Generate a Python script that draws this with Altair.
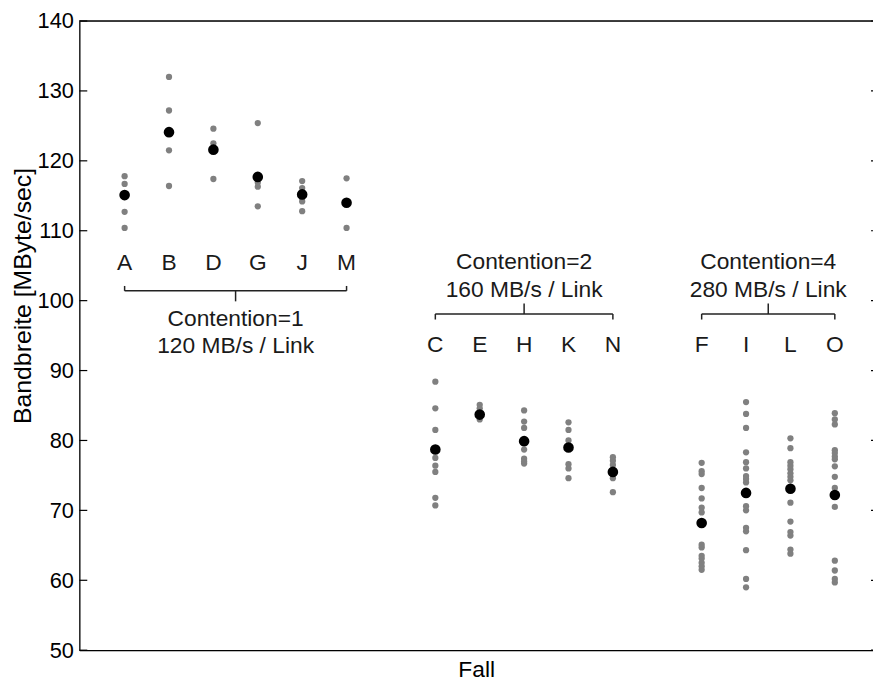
import altair as alt
import pandas as pd

# ---------------- data ----------------
cats_c1 = ["A", "B", "D", "G", "J", "M"]
cats_c2 = ["C", "E", "H", "K", "N"]
cats_c4 = ["F", "I", "L", "O"]

titles_c1 = ["Contention=1", "120 MB/s / Link"]
titles_c2 = ["Contention=2", "160 MB/s / Link"]
titles_c4 = ["Contention=4", "280 MB/s / Link"]

runs = {
    "A": [117.8, 116.7, 112.7, 110.4],
    "B": [132.0, 127.2, 121.5, 116.4],
    "D": [124.6, 122.5, 117.4],
    "G": [125.4, 116.9, 116.3, 113.5],
    "J": [117.1, 116.1, 114.7, 114.2, 112.8],
    "M": [117.5, 110.4],
    "C": [88.4, 84.6, 81.5, 77.5, 76.4, 75.5, 71.8, 70.7],
    "E": [85.1, 84.6, 83.0],
    "H": [84.3, 82.7, 81.8, 78.7, 77.4, 77.0, 76.7],
    "K": [82.6, 81.5, 80.0, 76.6, 76.0, 74.6],
    "N": [77.6, 77.1, 76.5, 74.6, 72.6],
    "F": [76.8, 75.6, 75.2, 73.2, 71.7, 70.4, 69.7, 65.1, 64.7, 63.5, 63.1, 62.5, 62.0, 61.5],
    "I": [85.5, 83.8, 81.8, 78.3, 76.9, 76.0, 74.9, 74.5, 74.0, 70.6, 70.0, 67.5, 67.0, 64.3, 60.2, 59.0],
    "L": [80.3, 78.9, 76.9, 76.4, 75.9, 75.3, 74.8, 74.3, 71.1, 68.4, 66.9, 66.4, 64.4, 63.8],
    "O": [83.9, 83.0, 82.3, 78.6, 78.2, 77.7, 77.3, 76.3, 74.8, 73.2, 70.5, 62.8, 61.4, 60.2, 59.7],
}

means = {
    "A": 115.1, "B": 124.1, "D": 121.6, "G": 117.7, "J": 115.2, "M": 114.0,
    "C": 78.7, "E": 83.7, "H": 79.9, "K": 79.0, "N": 75.5,
    "F": 68.2, "I": 72.5, "L": 73.1, "O": 72.2,
}

y_ticks = [50, 60, 70, 80, 90, 100, 110, 120, 130, 140]

# annotation levels (in data units of the y axis)
groups = [
    {"cats": cats_c1, "titles": titles_c1, "label_y": 105.4, "title_y": [97.4, 93.5],
     "bar_y": 101.4, "end_y": 102.1, "mid_y": 99.9},
    {"cats": cats_c2, "titles": titles_c2, "label_y": 93.7, "title_y": [105.5, 101.5],
     "bar_y": 98.1, "end_y": 97.3, "mid_y": 99.6},
    {"cats": cats_c4, "titles": titles_c4, "label_y": 93.7, "title_y": [105.5, 101.5],
     "bar_y": 98.1, "end_y": 97.3, "mid_y": 99.6},
]

# ---------------- build tables ----------------
pts, mean_rows, lab_rows, title_rows, rule_rows = [], [], [], [], []
pos = 1
for g in groups:
    first = pos
    for c in g["cats"]:
        for v in runs[c]:
            pts.append({"cat": c, "pos": pos, "v": v})
        mean_rows.append({"cat": c, "pos": pos, "v": means[c]})
        lab_rows.append({"cat": c, "pos": pos, "v": g["label_y"]})
        pos += 1
    last = pos - 1
    mid = (first + last) / 2
    for t, ty in zip(g["titles"], g["title_y"]):
        title_rows.append({"t": t, "pos": mid, "v": ty})
    rule_rows += [
        {"x1": first, "x2": last, "y1": g["bar_y"], "y2": g["bar_y"]},
        {"x1": first, "x2": first, "y1": g["bar_y"], "y2": g["end_y"]},
        {"x1": last, "x2": last, "y1": g["bar_y"], "y2": g["end_y"]},
        {"x1": mid, "x2": mid, "y1": g["bar_y"], "y2": g["mid_y"]},
    ]
    pos += 1  # gap between groups

pts = pd.DataFrame(pts)
mean_df = pd.DataFrame(mean_rows)
lab_df = pd.DataFrame(lab_rows)
title_df = pd.DataFrame(title_rows)
rule_df = pd.DataFrame(rule_rows)
tick_df = pd.DataFrame({"v": y_ticks})

FONT = "Liberation Sans"
W, H = 801, 635

xscale = alt.Scale(domain=[-0.02, 17.86], nice=False, zero=False)
yscale = alt.Scale(domain=[50, 140], nice=False, zero=False)

x_axis = alt.Axis(title="Fall", labels=False, ticks=False, grid=False, domain=True,
                  domainColor="black", domainWidth=1.3, titleFont=FONT, titleFontSize=23,
                  titleFontWeight="normal", titleColor="black", titlePadding=9)
y_axis = alt.Axis(title="Bandbreite [MByte/sec]", values=y_ticks, ticks=False, grid=False,
                  domain=True, domainColor="black", domainWidth=1.3,
                  labelFont=FONT, labelFontSize=22, labelColor="black", labelPadding=6,
                  titleFont=FONT, titleFontSize=25, titleFontWeight="normal", titleColor="black",
                  titleAngle=270, titleAlign="center", titleBaseline="middle",
                  titleX=-57, titleY=277)

grey = alt.Chart(pts).mark_circle(size=40, color="#808080", opacity=1).encode(
    x=alt.X("pos:Q", scale=xscale, axis=x_axis),
    y=alt.Y("v:Q", scale=yscale, axis=y_axis),
)

black = alt.Chart(mean_df).mark_circle(size=115, color="black", opacity=1).encode(
    x=alt.X("pos:Q", scale=xscale),
    y=alt.Y("v:Q", scale=yscale),
)

labels = alt.Chart(lab_df).mark_text(font=FONT, fontSize=23, color="#1a1a1a",
                                     baseline="middle", align="center").encode(
    x=alt.X("pos:Q", scale=xscale),
    y=alt.Y("v:Q", scale=yscale),
    text="cat:N",
)

titles = alt.Chart(title_df).mark_text(font=FONT, fontSize=23, color="#1a1a1a",
                                       baseline="middle", align="center").encode(
    x=alt.X("pos:Q", scale=xscale),
    y=alt.Y("v:Q", scale=yscale),
    text="t:N",
)

brackets = alt.Chart(rule_df).mark_rule(color="#222222", strokeWidth=1.5).encode(
    x=alt.X("x1:Q", scale=xscale),
    x2="x2:Q",
    y=alt.Y("y1:Q", scale=yscale),
    y2="y2:Q",
)

left_ticks = alt.Chart(tick_df).mark_rule(color="black", strokeWidth=1.2).encode(
    y=alt.Y("v:Q", scale=yscale),
    x=alt.value(0),
    x2=alt.value(8),
)
right_ticks = alt.Chart(tick_df).mark_rule(color="black", strokeWidth=1.2).encode(
    y=alt.Y("v:Q", scale=yscale),
    x=alt.value(W - 2),
    x2=alt.value(W),
)
top_line = alt.Chart(pd.DataFrame({"a": [0]})).mark_rule(color="black", strokeWidth=1.3).encode(
    x=alt.value(0), x2=alt.value(W), y=alt.value(0)
)

chart = alt.layer(grey, black, labels, titles, brackets, left_ticks, right_ticks, top_line).properties(
    width=W, height=H,
    autosize=alt.AutoSizeParams(type="none"),
    padding={"left": 72, "top": 10, "right": 0, "bottom": 32},
).configure_view(stroke=None).configure(background="white")

chart.save("out.html", embed_options={"renderer": "svg", "actions": False})
